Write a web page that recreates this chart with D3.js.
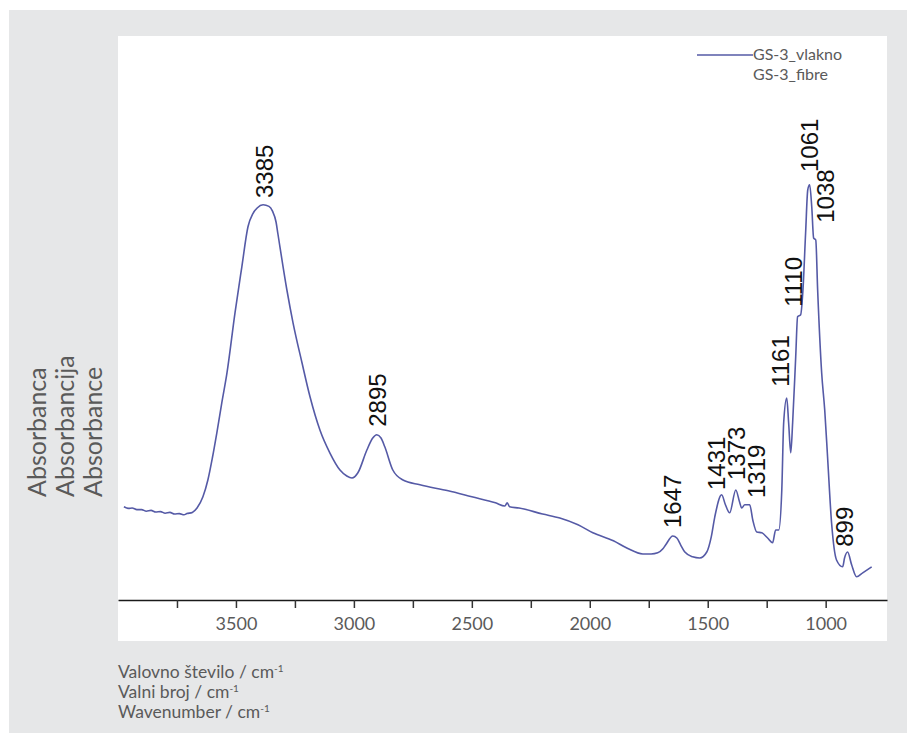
<!DOCTYPE html>
<html>
<head>
<meta charset="utf-8">
<script src="https://cdn.jsdelivr.net/npm/d3@7"></script>
<style>
  html, body { margin: 0; padding: 0; background: #ffffff; }
  svg { display: block; }
</style>
</head>
<body>
<svg id="chart" width="907" height="733"></svg>
<script>
// ---- data ----
const wavenumber = [3975, 3955, 3940, 3920, 3900, 3880, 3860, 3840, 3820, 3800, 3780, 3760, 3740, 3720, 3708, 3685, 3665, 3640, 3619, 3600, 3581, 3560, 3538, 3504, 3475, 3449, 3428, 3410, 3385, 3360, 3345, 3330, 3322, 3284, 3258, 3220, 3186, 3144, 3102, 3059, 3030, 3008, 2983, 2945, 2920, 2903, 2885, 2869, 2835, 2792, 2720, 2600, 2500, 2400, 2360, 2350, 2340, 2300, 2200, 2127, 2050, 1987, 1900, 1843, 1775, 1740, 1712, 1690, 1678, 1648, 1631, 1615, 1597, 1564, 1534, 1504, 1485, 1470, 1441, 1425, 1407, 1381, 1365, 1356, 1343, 1322, 1309, 1292, 1271, 1246, 1225, 1212, 1199, 1186, 1178, 1165, 1157, 1148, 1140, 1127, 1119, 1106, 1097, 1085, 1076, 1068, 1059, 1051, 1042, 1034, 1017, 1004, 992, 975, 954, 928, 920, 907, 890, 869, 843, 805];
const absorbance = [0.233, 0.229, 0.230, 0.226, 0.226, 0.222, 0.224, 0.220, 0.221, 0.217, 0.219, 0.215, 0.216, 0.213, 0.216, 0.219, 0.230, 0.258, 0.300, 0.355, 0.418, 0.493, 0.568, 0.718, 0.833, 0.933, 0.966, 0.980, 0.988, 0.984, 0.972, 0.945, 0.915, 0.775, 0.693, 0.593, 0.508, 0.425, 0.368, 0.325, 0.310, 0.305, 0.318, 0.375, 0.405, 0.413, 0.405, 0.383, 0.325, 0.300, 0.288, 0.273, 0.258, 0.243, 0.235, 0.243, 0.233, 0.230, 0.215, 0.205, 0.188, 0.168, 0.148, 0.130, 0.115, 0.115, 0.118, 0.128, 0.138, 0.160, 0.155, 0.138, 0.120, 0.108, 0.105, 0.120, 0.158, 0.208, 0.263, 0.238, 0.218, 0.275, 0.245, 0.230, 0.238, 0.238, 0.200, 0.170, 0.168, 0.155, 0.143, 0.175, 0.175, 0.275, 0.443, 0.505, 0.443, 0.368, 0.443, 0.608, 0.708, 0.713, 0.768, 0.918, 1.025, 1.038, 0.983, 0.905, 0.900, 0.775, 0.568, 0.475, 0.358, 0.193, 0.100, 0.083, 0.105, 0.120, 0.088, 0.058, 0.068, 0.083];

const xTickValues = [3750, 3500, 3250, 3000, 2750, 2500, 2250, 2000, 1750, 1500, 1250, 1000];
const xTickLabels = ["", "3500", "", "3000", "", "2500", "", "2000", "", "1500", "", "1000"];

const peakLabels   = ["3385", "2895", "1647", "1431", "1373", "1319", "1161", "1110", "1061", "1038", "899"];
const peakLabelWn  = [3377, 2898, 1648, 1461, 1377, 1292, 1191, 1136, 1068, 1000, 919];
const peakLabelAbs = [1.005, 0.433, 0.180, 0.275, 0.300, 0.255, 0.533, 0.733, 1.070, 0.943, 0.133];

const seriesNames = ["GS-3_vlakno", "GS-3_fibre"];
const yTitleLines = ["Absorbanca", "Absorbancija", "Absorbance"];
const xTitleLines = ["Valovno število / cm", "Valni broj / cm", "Wavenumber / cm"];

// ---- layout ----
const svg = d3.select("#chart");
const lineColor = "#555aa6";
const textGray = "#5a5a5a";
const uiFont = "Lato, 'Noto Sans', sans-serif";

svg.append("rect").attr("x", 9).attr("y", 10).attr("width", 898).attr("height", 723).attr("fill", "#e6e7e8");
svg.append("rect").attr("x", 118).attr("y", 36).attr("width", 769).attr("height", 605).attr("fill", "#ffffff");

const x = d3.scaleLinear().domain([4000, 740]).range([118, 887]);
const y = d3.scaleLinear().domain([0, 1.41]).range([600, 36]);

// axis
const xAxis = d3.axisBottom(x)
  .tickValues(xTickValues)
  .tickFormat((d, i) => xTickLabels[i])
  .tickSize(8)
  .tickSizeOuter(0)
  .tickPadding(9);

const gx = svg.append("g").attr("transform", `translate(0,${y(0)})`).call(xAxis);
gx.select(".domain").attr("stroke", "#1a1a1a").attr("stroke-width", 1.6);
gx.selectAll(".tick line").attr("stroke", "#333").attr("stroke-width", 1.5);
gx.selectAll(".tick text").attr("fill", textGray).attr("font-family", uiFont).attr("font-size", 18);

// spectrum line
const pts = wavenumber.map((w, i) => [w, absorbance[i]]);
const line = d3.line().x(d => x(d[0])).y(d => y(d[1])).curve(d3.curveMonotoneX);
svg.append("path").datum(pts).attr("d", line)
  .attr("fill", "none").attr("stroke", lineColor).attr("stroke-width", 1.6)
  .attr("stroke-linejoin", "round");

// peak labels
svg.append("g").selectAll("text").data(peakLabels).join("text")
  .attr("transform", (d, i) => `translate(${x(peakLabelWn[i])},${y(peakLabelAbs[i])}) rotate(-90)`)
  .attr("dy", "0.35em")
  .attr("text-anchor", "start")
  .attr("font-family", "'Liberation Sans', Arial, sans-serif")
  .attr("font-size", 24)
  .attr("fill", "#111")
  .text(d => d);

// legend
svg.append("line").attr("x1", 697).attr("x2", 753).attr("y1", 55).attr("y2", 55)
  .attr("stroke", lineColor).attr("stroke-width", 1.6);
svg.append("g").selectAll("text").data(seriesNames).join("text")
  .attr("x", 753).attr("y", (d, i) => 60 + i * 20)
  .attr("font-family", uiFont).attr("font-size", 16).attr("fill", textGray)
  .text(d => d);

// y title (rotated, three lines)
svg.append("g").selectAll("text").data(yTitleLines).join("text")
  .attr("transform", (d, i) => `translate(${46 + i * 28},497) rotate(-90)`)
  .attr("text-anchor", "start")
  .attr("font-family", uiFont).attr("font-size", 25).attr("fill", textGray)
  .text(d => d);

// x title (three lines, with superscript -1)
const xt = svg.append("g").selectAll("text").data(xTitleLines).join("text")
  .attr("x", 118).attr("y", (d, i) => 678 + i * 20)
  .attr("font-family", uiFont).attr("font-size", 17.5).attr("fill", textGray);
xt.append("tspan").text(d => d);
xt.append("tspan").attr("dy", -6).attr("font-size", 10).text("-1");
</script>
</body>
</html>
